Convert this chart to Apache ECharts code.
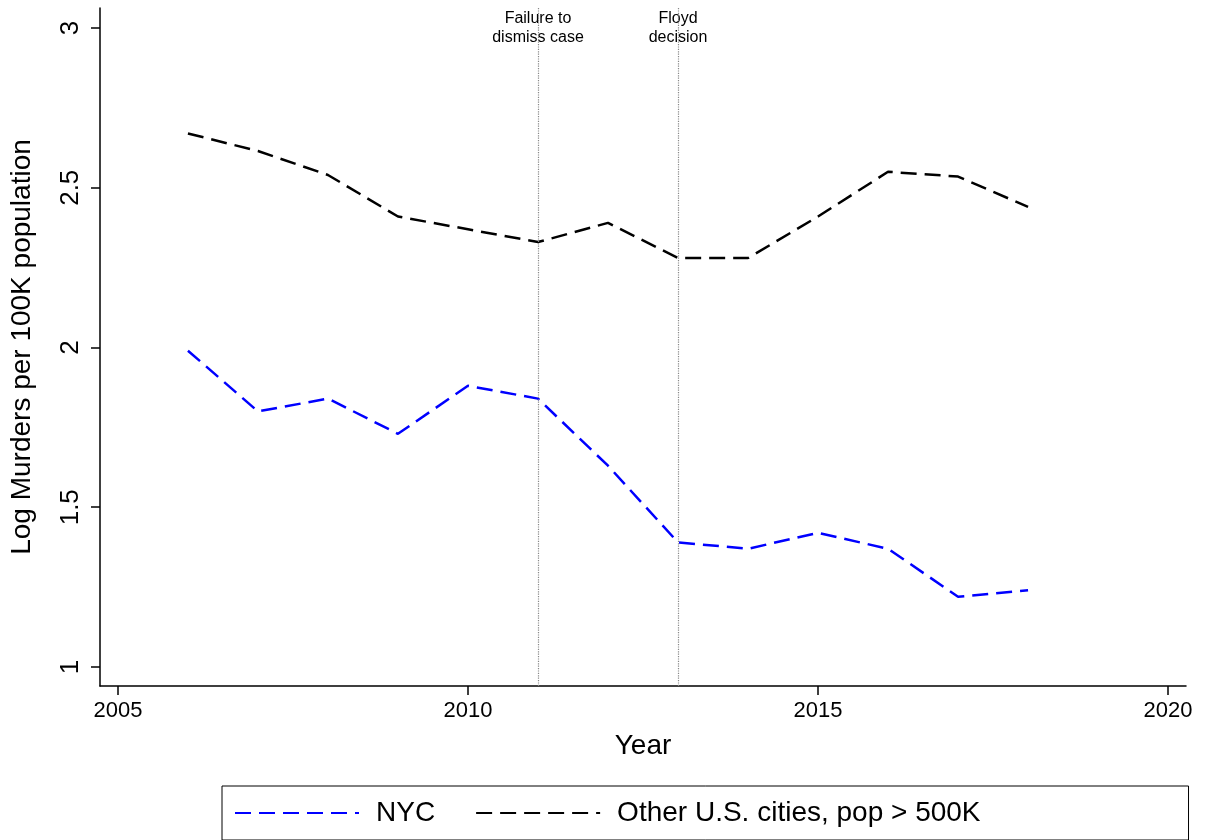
<!DOCTYPE html>
<html>
<head>
<meta charset="utf-8"/>
<script src="https://cdn.jsdelivr.net/npm/echarts@6/dist/echarts.min.js"></script>
<style>body{margin:0}#main{width:1209px;height:840px}</style>
</head>
<body>
<div id="main"></div>
<script>
var years = [2006,2007,2008,2009,2010,2011,2012,2013,2014,2015,2016,2017,2018];
var nyc = [1.99,1.80,1.84,1.73,1.88,1.84,1.63,1.39,1.37,1.42,1.37,1.22,1.24];
var other = [2.67,2.615,2.54,2.41,2.37,2.33,2.39,2.28,2.28,2.41,2.55,2.535,2.44];
var xTicks = [2005,2010,2015,2020];
var yTicks = [1,1.5,2,2.5,3];
var eventYears = [2011,2013];
var eventLabels = ['Failure to\ndismiss case','Floyd\ndecision'];

var font = 'Liberation Sans, Arial, sans-serif';
var chart = echarts.init(document.getElementById('main'));
function pairs(v){ return years.map(function(y,i){return [y,v[i]];}); }
var dash = {width:2.5,type:[16,8]};
chart.setOption({
  animation:false,
  textStyle:{fontFamily:font},
  grid:{left:97,right:23,top:8,bottom:154},
  xAxis:{type:'value',min:2004.744,max:2020.256,name:'Year',nameLocation:'middle',nameGap:46,
    nameTextStyle:{fontSize:28,color:'#000'},
    splitLine:{show:false},
    axisLine:{lineStyle:{color:'#000',width:1.5}},
    axisTick:{customValues:xTicks,length:9,lineStyle:{color:'#000',width:1.5}},
    axisLabel:{customValues:xTicks,fontSize:22,color:'#000',margin:14,formatter:function(v){return String(v);}}},
  yAxis:{type:'value',min:0.9405,max:3.0626,name:'Log Murders per 100K population',nameLocation:'middle',nameGap:64,
    nameTextStyle:{fontSize:28,color:'#000'},
    splitLine:{show:false},
    axisLine:{show:true,lineStyle:{color:'#000',width:1.5}},
    axisTick:{show:true,customValues:yTicks,length:9,lineStyle:{color:'#000',width:1.5}},
    axisLabel:{customValues:yTicks,fontSize:26,color:'#000',rotate:90,margin:16}},
  legend:{bottom:0,left:222,itemGap:40,itemWidth:124,itemHeight:14,
    padding:[13,208,13,12],borderColor:'#000',borderWidth:1,
    itemStyle:{opacity:0},
    textStyle:{fontSize:28,color:'#000',padding:[0,0,0,12]},
    data:['NYC','Other U.S. cities, pop > 500K']},
  series:[
    {name:'NYC',type:'line',data:pairs(nyc),symbol:'none',
      lineStyle:Object.assign({color:'#0000ff'},dash),itemStyle:{color:'#0000ff'},
      markLine:{silent:true,symbol:'none',label:{show:false},
        lineStyle:{color:'#888',type:'dotted',width:1.2},
        data:eventYears.map(function(y){return {xAxis:y};})}},
    {name:'Other U.S. cities, pop > 500K',type:'line',data:pairs(other),symbol:'none',
      lineStyle:Object.assign({color:'#000'},dash),itemStyle:{color:'#000'}},
    {name:'events',type:'scatter',symbolSize:0,silent:true,
      data:eventYears.map(function(y){return [y,3.06];}),
      label:{show:true,position:'bottom',distance:0,fontSize:16,lineHeight:19,color:'#000',opacity:1,
        formatter:function(p){return eventLabels[p.dataIndex];}}}
  ]
});
</script>
</body>
</html>
